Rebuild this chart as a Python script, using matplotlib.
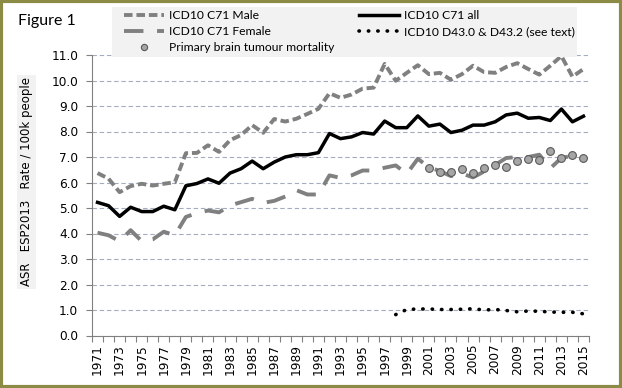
import matplotlib
matplotlib.use("Agg")
import matplotlib.pyplot as plt
from matplotlib.patches import Rectangle
import numpy as np

# datos
years = list(range(1971, 2016))

male = [6.37, 6.15, 5.62, 5.86, 5.95, 5.88, 5.95, 6.01, 7.15, 7.16,
        7.46, 7.20, 7.66, 7.86, 8.25, 7.95, 8.49, 8.39, 8.50, 8.69,
        8.89, 9.50, 9.32, 9.45, 9.68, 9.72, 10.65, 9.99, 10.30, 10.60,
        10.25, 10.30, 10.03, 10.25, 10.58, 10.33, 10.30, 10.53, 10.68, 10.45,
        10.23, 10.58, 10.96, 10.15, 10.45]

female = [4.03, 3.93, 3.70, 4.13, 3.70, 3.77, 4.07, 3.93, 4.65, 4.80,
          4.90, 4.83, 5.10, 5.23, 5.36, 5.20, 5.28, 5.45, 5.70, 5.53,
          5.53, 6.28, 6.18, 6.28, 6.47, 6.47, 6.58, 6.67, 6.34, 6.93,
          6.60, 6.45, 6.25, 6.35, 6.20, 6.43, 6.69, 6.96, 7.00, 7.00,
          7.09, 6.56, 6.96, 7.05, 6.96]

c71_all = [5.22, 5.09, 4.67, 5.03, 4.86, 4.86, 5.07, 4.93, 5.87, 5.96,
           6.14, 5.97, 6.37, 6.54, 6.84, 6.54, 6.80, 7.00, 7.09, 7.09,
           7.17, 7.92, 7.72, 7.79, 7.96, 7.90, 8.41, 8.15, 8.15, 8.61,
           8.21, 8.29, 7.96, 8.05, 8.25, 8.25, 8.38, 8.65, 8.72, 8.52,
           8.55, 8.43, 8.88, 8.38, 8.60]

primary_years = list(range(2001, 2016))
primary = [6.55, 6.40, 6.41, 6.52, 6.39, 6.56, 6.67, 6.60, 6.83, 6.92,
           6.87, 7.23, 6.96, 7.07, 6.96]

d43_years = list(range(1998, 2016))
d43 = [0.82, 1.02, 1.04, 1.04, 1.02, 1.02, 1.03, 1.05, 1.00, 1.02,
       0.98, 0.93, 0.96, 0.95, 0.92, 0.91, 0.91, 0.85]

grey = '#808080'

fig = plt.figure(figsize=(6.22, 3.88), dpi=100)
ax = fig.add_axes([92/622, 1 - 335.5/388, (589 - 92)/622, (335.5 - 55)/388])

x = np.arange(len(years))
xp = np.array([years.index(y) for y in primary_years])
xd = np.array([years.index(y) for y in d43_years])

ax.plot(x, male, color=grey, lw=2.8, ls=(0, (2.2, 1)), label='ICD10 C71 Male')
ax.plot(x, female, color=grey, lw=2.8, ls=(0, (5, 3.5)), label='ICD10 C71 Female')
ax.plot(xp, primary, ls='none', marker='o', ms=5.6, mfc='#A6A6A6', mec='#595959',
        mew=0.8, label='Primary brain tumour mortality')
ax.plot(x, c71_all, color='black', lw=2.5, label='ICD10 C71 all')
ax.plot(xd, d43, color='black', lw=2.6, ls=(0, (0.1, 2.5)), dash_capstyle='round',
        label='ICD10 D43.0 & D43.2 (see text)')

ax.set_xlim(-0.5, len(years) - 0.5)
ax.set_ylim(0, 11)
ax.set_yticks(np.arange(0, 11.5, 1.0))
ax.set_yticklabels(['%.1f' % v for v in np.arange(0, 11.5, 1.0)], fontsize=8.7)
ax.yaxis.grid(True, ls=(0, (4, 2.5)), color='#A4ACC0', lw=0.8)
ax.set_axisbelow(True)

ax.set_xticks(x[::2])
ax.set_xticklabels([str(y) for y in years[::2]], rotation=90, fontsize=8.7)
ax.set_xticks(np.arange(-0.5, len(years), 1.0), minor=True)
ax.tick_params(axis='x', which='major', length=0, pad=6)
ax.tick_params(axis='x', which='minor', length=4, color=grey, width=0.8)
ax.tick_params(axis='y', length=4, color=grey, width=0.8, pad=6)

for s in ['top', 'right']:
    ax.spines[s].set_visible(False)
for s in ['left', 'bottom']:
    ax.spines[s].set_color(grey)
    ax.spines[s].set_linewidth(0.8)

fig.text(26.5/622, 1 - 182/388, 'ASR   ESP2013   Rate / 100k people', rotation=90,
         ha='center', va='center', fontsize=8.5, family='DejaVu Sans',
         bbox=dict(facecolor='#F2F2F2', edgecolor='none', pad=2))

fig.text(18/622, 1 - 21/388, 'Figure 1', ha='left', va='center', fontsize=11.5,
         family='Lato')

# fondo gris de la leyenda
fig.patches.append(Rectangle((112/622, 1 - 57/388), (577 - 112)/622, 50/388,
                             transform=fig.transFigure, facecolor='#F2F2F2',
                             edgecolor='none', zorder=0))

leg = fig.legend(loc='upper left', bbox_to_anchor=(124/622, 1 - 10/388), ncol=2,
                 frameon=False, prop={'family': 'Lato', 'size': 8.7},
                 handlelength=3.3, handletextpad=0.4, columnspacing=2.1,
                 labelspacing=0.42, borderpad=0.0, borderaxespad=0,
                 markerscale=0.8)

fig.patches.append(Rectangle((0.002, 0.003), 0.996, 0.994, transform=fig.transFigure,
                             fill=False, edgecolor='#8C8B45', lw=3))

fig.savefig('out.png', dpi=100)
